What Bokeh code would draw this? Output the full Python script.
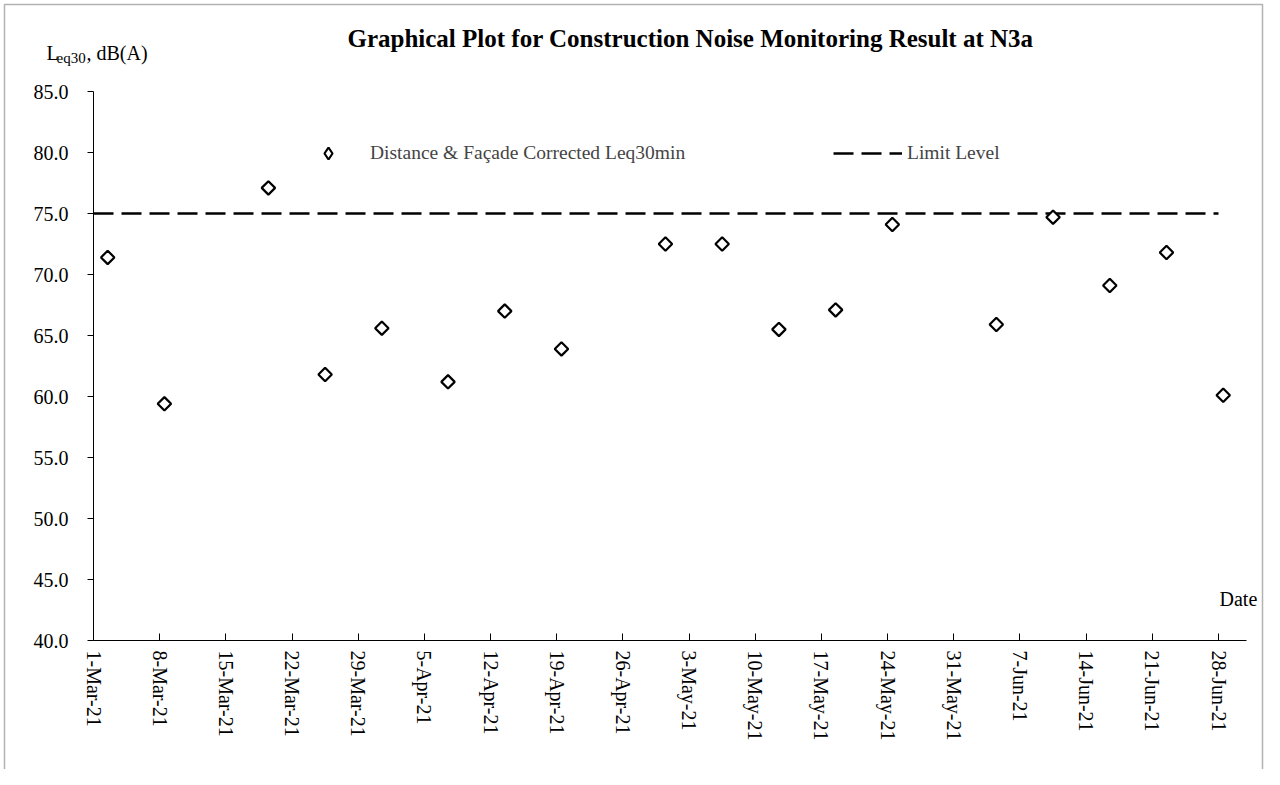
import math
import pandas as pd
from bokeh.plotting import figure
from bokeh.models import (Range1d, FixedTicker, Label, Legend, LegendItem,
                          PrintfTickFormatter, ColumnDataSource, BoxAnnotation)
from bokeh.embed import file_html
from bokeh.resources import INLINE

# ---------------- data ----------------
meas_dates = ["2021-03-02", "2021-03-08", "2021-03-19", "2021-03-25", "2021-03-31",
              "2021-04-07", "2021-04-13", "2021-04-19", "2021-04-30",
              "2021-05-06", "2021-05-12", "2021-05-18", "2021-05-24",
              "2021-06-04", "2021-06-10", "2021-06-16", "2021-06-22", "2021-06-28"]
leq30 = [71.4, 59.4, 77.1, 61.8, 65.6, 61.2, 67.0, 63.9, 72.5,
         72.5, 65.5, 67.1, 74.1, 65.9, 74.7, 69.1, 71.8, 60.1]

tick_dates = ["2021-03-01", "2021-03-08", "2021-03-15", "2021-03-22", "2021-03-29",
              "2021-04-05", "2021-04-12", "2021-04-19", "2021-04-26",
              "2021-05-03", "2021-05-10", "2021-05-17", "2021-05-24", "2021-05-31",
              "2021-06-07", "2021-06-14", "2021-06-21", "2021-06-28"]
tick_labels = ["1-Mar-21", "8-Mar-21", "15-Mar-21", "22-Mar-21", "29-Mar-21",
               "5-Apr-21", "12-Apr-21", "19-Apr-21", "26-Apr-21",
               "3-May-21", "10-May-21", "17-May-21", "24-May-21", "31-May-21",
               "7-Jun-21", "14-Jun-21", "21-Jun-21", "28-Jun-21"]

limit_dates = ["2021-03-01", "2021-06-28"]
limit_level = [75.0, 75.0]

axis_start = "2021-03-01"
axis_end = "2021-07-01"
y_ticks = [40, 45, 50, 55, 60, 65, 70, 75, 80, 85]

title_text = "Graphical Plot for Construction Noise Monitoring Result at N3a"
series_label = "Distance & Façade Corrected Leq30min"
limit_label = "Limit Level"
x_title = "Date"

# ---------------- layout (pixels) ----------------
W, H = 1264, 769
AX_L = 93          # pixel of the y axis (first date)
AX_B = 640         # pixel of the x axis (lowest y tick)
AX_T = 91          # pixel of the highest y tick
PPD = (1218 - 93) / 119.0
PPU = (AX_B - AX_T) / float(y_ticks[-1] - y_ticks[0])

origin = pd.Timestamp(axis_start)


def day(d):
    return (pd.Timestamp(d) - origin).days


def px2x(px):
    return (px - AX_L) / PPD


def px2y(py):
    return y_ticks[0] + (AX_B - py) / PPU


SERIF = "Liberation Serif"
NAN = float("nan")

x_pts = [day(d) + 0.5 for d in meas_dates]
x_ticks = [day(d) for d in tick_dates]
x_lim = [day(d) for d in limit_dates]

p = figure(width=W, height=H, output_backend="svg", toolbar_location=None,
           title=None, x_range=Range1d(px2x(0), px2x(W)),
           y_range=Range1d(px2y(H), px2y(0)),
           min_border=0, min_border_left=0, min_border_right=0,
           min_border_top=0, min_border_bottom=0)
p.grid.visible = False
p.outline_line_color = None
p.background_fill_color = "white"
p.border_fill_color = "white"

# outer chart border
p.add_layout(BoxAnnotation(left=px2x(4), right=px2x(W - 2), top=px2y(4),
                           bottom=px2y(H + 20), fill_alpha=0,
                           line_color="black", line_width=1.5))

# axes
xa = p.xaxis[0]
xa.fixed_location = y_ticks[0]
xa.bounds = (0, day(axis_end))
xa.ticker = FixedTicker(ticks=x_ticks)
xa.major_label_overrides = {t: l for t, l in zip(x_ticks, tick_labels)}
xa.major_label_orientation = -math.pi / 2
xa.major_tick_in = 7
xa.major_tick_out = 0
xa.minor_tick_line_color = None
xa.major_label_standoff = 10
xa.axis_line_color = "black"
xa.major_tick_line_color = "black"
xa.major_label_text_font = SERIF
xa.major_label_text_font_size = "20px"
xa.major_label_text_color = "black"

ya = p.yaxis[0]
ya.fixed_location = 0
ya.bounds = (y_ticks[0], y_ticks[-1])
ya.ticker = FixedTicker(ticks=y_ticks)
ya.formatter = PrintfTickFormatter(format="%.1f")
ya.major_tick_in = 0
ya.major_tick_out = 6
ya.minor_tick_line_color = None
ya.major_label_standoff = 19
ya.axis_line_color = "black"
ya.major_tick_line_color = "black"
ya.major_label_text_font = SERIF
ya.major_label_text_font_size = "20px"
ya.major_label_text_color = "black"

# data
src = ColumnDataSource(dict(x=x_pts, y=leq30))
r_lim = p.line(x_lim, limit_level, line_color="black", line_width=2.5,
               line_dash="20 8")
r_pts = p.scatter("x", "y", source=src, marker="square", angle=math.pi / 4,
                  size=9.5, fill_color="white", line_color="black", line_width=2.2)

# legend key for the measured series (diamond marker, no visible point)
r_pts_key = p.scatter([NAN], [NAN], marker="diamond", fill_color="white",
                      line_color="black", line_width=2.2)

leg1 = Legend(items=[LegendItem(label=series_label, renderers=[r_pts_key])],
              location=(313, H - 168), glyph_width=30, glyph_height=30,
              label_height=20, label_standoff=27, padding=0, margin=0,
              border_line_color=None, background_fill_alpha=0,
              label_text_font=SERIF, label_text_font_size="19.5px")
leg2 = Legend(items=[LegendItem(label=limit_label, renderers=[r_lim])],
              location=(833, H - 168), glyph_width=69, glyph_height=30,
              label_height=20, label_standoff=5, padding=0, margin=0,
              border_line_color=None, background_fill_alpha=0,
              label_text_font=SERIF, label_text_font_size="19.5px")
p.add_layout(leg1)
p.add_layout(leg2)

# title & axis labels
p.add_layout(Label(x=px2x(690), y=px2y(38), text=title_text, text_align="center",
                   text_baseline="middle", text_font=SERIF,
                   text_font_style="bold", text_font_size="25px",
                   text_color="black"))
p.add_layout(Label(x=px2x(46), y=px2y(52), text="L", text_align="left",
                   text_baseline="middle", text_font=SERIF,
                   text_font_size="20px", text_color="black"))
p.add_layout(Label(x=px2x(56), y=px2y(57), text="eq30", text_align="left",
                   text_baseline="middle", text_font=SERIF,
                   text_font_size="15px", text_color="black"))
p.add_layout(Label(x=px2x(86), y=px2y(52), text=", dB(A)", text_align="left",
                   text_baseline="middle", text_font=SERIF,
                   text_font_size="20px", text_color="black"))
p.add_layout(Label(x=px2x(1219), y=px2y(598), text=x_title, text_align="left",
                   text_baseline="middle", text_font=SERIF,
                   text_font_size="20px", text_color="black"))

open("out.html", "w").write(file_html(p, INLINE))
